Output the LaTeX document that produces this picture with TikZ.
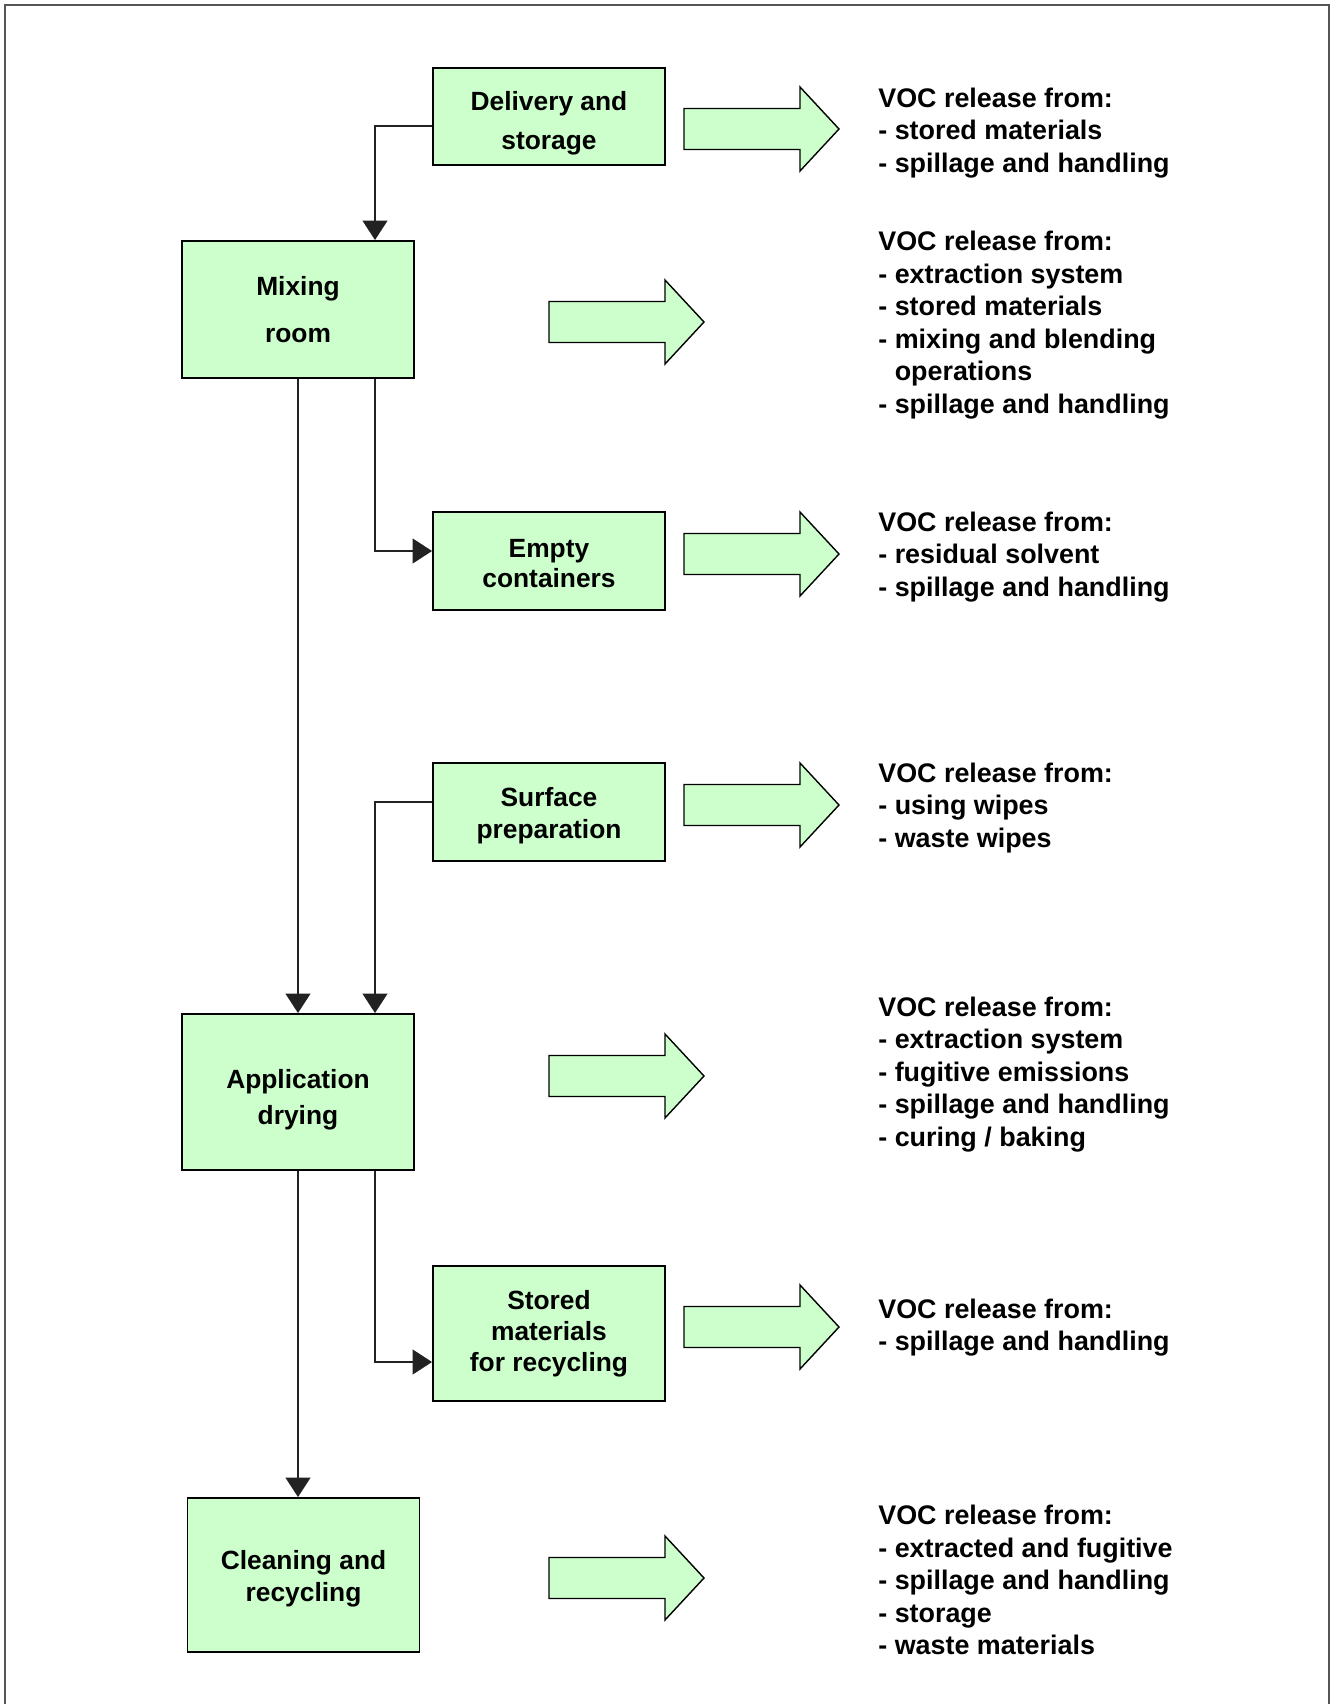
\documentclass[tikz,border=0pt]{standalone}
\usepackage{fontspec}
\setmainfont{Liberation Sans}
\usetikzlibrary{arrows.meta}
\definecolor{boxgreen}{HTML}{CCFFCC}
\definecolor{linedark}{HTML}{222222}
\definecolor{framegray}{HTML}{555555}
\newcommand{\toplift}[1]{\rule{0pt}{#1}}
\begin{document}
\begin{tikzpicture}[x=0.02cm,y=-0.02cm,
 box/.style={draw=black, line width=1.1pt, fill=boxgreen, minimum width=4.64cm, inner sep=0pt, align=center, font=\fontsize{15}{17.5}\selectfont\bfseries},
 boxls/.style={box, font=\fontsize{15}{#1}\selectfont\bfseries},
 conn/.style={draw=linedark, line width=1.1pt, -{Triangle[length=11pt,width=14pt]}},
 voc/.style={anchor=base west, inner sep=0pt, font=\fontsize{15.3}{18.5}\selectfont\bfseries},
 bigarrow/.pic={\draw[draw=black, line width=0.8pt, fill=boxgreen] (0,-20.5) -- (116,-20.5) -- (116,-42) -- (155,0) -- (116,42) -- (116,20.5) -- (0,20.5) -- cycle;}
]
\useasboundingbox (0,0) rectangle (1335,1704);
\fill[white] (0,0) rectangle (1335,1704);
\draw[framegray, line width=1pt] (5,1704) -- (5,5) -- (1329,5) -- (1329,1704);

% process boxes
\node[boxls=22.2, minimum height=1.94cm] (del) at (549,116.5) {\toplift{0.67cm}Delivery and\\storage};
\node[boxls=26.6, minimum height=2.74cm] (mix) at (298,309.5) {Mixing\\room};
\node[box, minimum height=1.96cm] (emp) at (549,561) {\toplift{0.46cm}Empty\\containers};
\node[boxls=18, minimum height=1.96cm] (surf) at (549,812) {\toplift{0.52cm}Surface\\preparation};
\node[boxls=21, minimum height=3.12cm] (app) at (298,1092) {\toplift{0.69cm}Application\\drying};
\node[box, minimum height=2.7cm] (sto) at (549,1333.5) {Stored\\materials\\for recycling};
\node[boxls=18, minimum height=3.08cm] (cln) at (303.5,1575) {\toplift{0.52cm}Cleaning and\\recycling};

% connectors
\coordinate (jx) at (375,0);
\draw[conn] ([yshift=-0.19cm]del.west) -| (mix.north -| jx);
\draw[conn] (mix.south -| jx) |- ([yshift=0.2cm]emp.west);
\draw[conn] (mix.south) -- (app.north);
\draw[conn] ([yshift=0.2cm]surf.west) -| (app.north -| jx);
\draw[conn] (app.south) -- (app.south |- cln.north);
\draw[conn] (app.south -| jx) |- ([yshift=-0.57cm]sto.west);

% release arrows
\pic at (684,129) {bigarrow};
\pic at (549,322) {bigarrow};
\pic at (684,554) {bigarrow};
\pic at (684,805) {bigarrow};
\pic at (549,1076) {bigarrow};
\pic at (684,1327) {bigarrow};
\pic at (549,1578) {bigarrow};

% release texts
\node[voc] (t1) at (878,107) {\begin{tabular}[t]{@{}l@{}}VOC release from:\\- stored materials\\- spillage and handling\end{tabular}};
\node[voc] (t2) at (878,250.5) {\begin{tabular}[t]{@{}l@{}}VOC release from:\\- extraction system\\- stored materials\\- mixing and blending\\\hphantom{- }operations\\- spillage and handling\end{tabular}};
\node[voc] (t3) at (878,531) {\begin{tabular}[t]{@{}l@{}}VOC release from:\\- residual solvent\\- spillage and handling\end{tabular}};
\node[voc] (t4) at (878,782) {\begin{tabular}[t]{@{}l@{}}VOC release from:\\- using wipes\\- waste wipes\end{tabular}};
\node[voc] (t5) at (878,1016) {\begin{tabular}[t]{@{}l@{}}VOC release from:\\- extraction system\\- fugitive emissions\\- spillage and handling\\- curing / baking\end{tabular}};
\node[voc] (t6) at (878,1318) {\begin{tabular}[t]{@{}l@{}}VOC release from:\\- spillage and handling\end{tabular}};
\node[voc] (t7) at (878,1524.6) {\begin{tabular}[t]{@{}l@{}}VOC release from:\\- extracted and fugitive\\- spillage and handling\\- storage\\- waste materials\end{tabular}};
\end{tikzpicture}
\end{document}
